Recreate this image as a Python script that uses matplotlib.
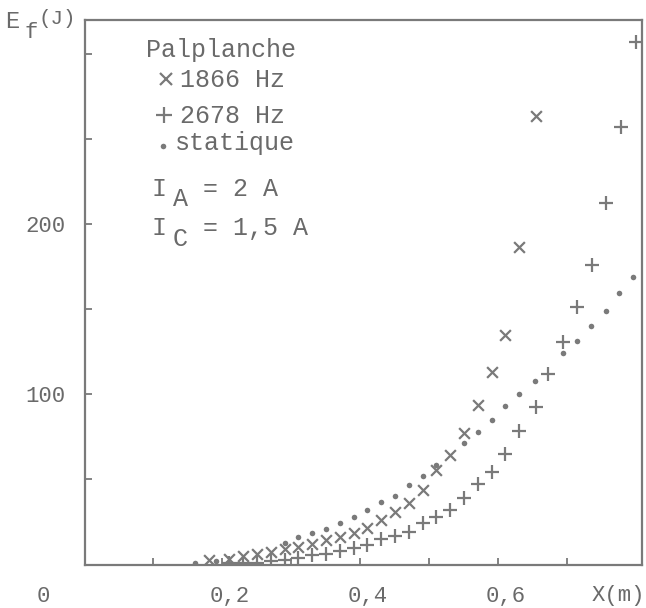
import matplotlib.pyplot as plt
from matplotlib.transforms import ScaledTranslation

plt.rcParams['font.family'] = ['Liberation Mono', 'DejaVu Sans']

# valeurs : X (m), Ef (J)
x_1866 = [0.18, 0.21, 0.23, 0.25, 0.27, 0.29, 0.31, 0.33, 0.35, 0.37, 0.39, 0.41,
          0.43, 0.45, 0.47, 0.49, 0.51, 0.53, 0.55, 0.57, 0.59, 0.61, 0.63, 0.655]
e_1866 = [2.4, 2.9, 4.7, 5.9, 7.1, 8.8, 10.0, 11.8, 14.1, 15.9, 18.2, 21.2,
          25.9, 30.6, 35.9, 43.5, 55.3, 64.1, 77.1, 93.5, 112.9, 134.7, 186.5, 263.5]

x_2678 = [0.21, 0.23, 0.25, 0.27, 0.29, 0.31, 0.33, 0.35, 0.37, 0.39, 0.41, 0.43,
          0.45, 0.47, 0.49, 0.51, 0.53, 0.55, 0.57, 0.59, 0.61, 0.63, 0.655, 0.672,
          0.693, 0.714, 0.735, 0.756, 0.777, 0.799]
e_2678 = [0.6, 0.6, 0.6, 1.8, 2.4, 3.5, 5.3, 5.9, 7.6, 9.4, 11.2, 14.7,
          16.5, 18.8, 24.1, 27.6, 31.8, 38.8, 47.1, 54.1, 64.7, 78.2, 92.4, 111.8,
          130.6, 151.2, 175.9, 212.4, 257.1, 307.1]

x_stat = [0.16, 0.19, 0.29, 0.31, 0.33, 0.35, 0.37, 0.39, 0.41, 0.43, 0.45, 0.47,
          0.49, 0.51, 0.55, 0.57, 0.59, 0.61, 0.63, 0.653, 0.693, 0.714, 0.734,
          0.756, 0.775, 0.795]
e_stat = [0.5, 1.8, 12.4, 15.9, 18.2, 20.6, 24.1, 27.6, 31.8, 36.5, 40.0, 46.5,
          51.8, 58.2, 71.2, 77.6, 84.7, 92.9, 100.0, 107.6, 124.1, 131.2, 140.0,
          148.8, 159.4, 168.8]

xticks = [0.1, 0.2, 0.3, 0.4, 0.5, 0.6, 0.7]
xtick_labels = ['', '0,2', '', '0,4', '', '0,6', '']
yticks = [50, 100, 150, 200, 250, 300]
ytick_labels = ['', '100', '', '200', '', '']

gris = '#7a7a7a'
texte = '#6a6a6a'

W, H = 646, 608
fig = plt.figure(figsize=(W / 100, H / 100), dpi=100)
ax = fig.add_axes([84.5 / W, 1 - 565 / H, (642 - 84.5) / W, (565 - 20) / H])

ax.scatter(x_1866, e_1866, marker='x', s=60, color=gris, linewidths=1.6)
ax.scatter(x_2678, e_2678, marker='+', s=110, color=gris, linewidths=1.6)
ax.scatter(x_stat, e_stat, marker='o', s=16, color=gris, linewidths=0)

ax.set_xlim(0, 0.808)
ax.set_ylim(-0.6, 320)
ax.set_xticks(xticks)
ax.set_xticklabels(xtick_labels)
ax.set_yticks(yticks)
ax.set_yticklabels(ytick_labels)
ax.tick_params(axis='both', direction='in', length=5, width=1.3, colors=gris,
               labelcolor=texte, labelsize=16)
ax.tick_params(axis='x', pad=15)
ax.tick_params(axis='y', pad=14)
# les etiquettes x sont un peu decalees a droite des graduations
decal = ScaledTranslation(7 / 100, 0, fig.dpi_scale_trans)
for lab in ax.get_xticklabels():
    lab.set_transform(lab.get_transform() + decal)
for s in ax.spines.values():
    s.set_color(gris)
    s.set_linewidth(1.6)


def txt(px, py, s, size=18, ha='left'):
    # position en pixels de l'image
    fig.text(px / W, 1 - py / H, s, fontsize=size, color=texte, ha=ha, va='center')


def mark(px, py, m, ms, mew):
    fig.add_artist(plt.Line2D([px / W], [1 - py / H], marker=m, ms=ms, mew=mew,
                              color=gris, linestyle='none', transform=fig.transFigure))


# origine et titre de l'axe x
txt(43, 596, '0', 16, 'center')
txt(618, 596, 'X(m)', 16, 'center')

# titre de l'axe y
txt(5, 22, 'E', 17)
txt(24, 32, 'f', 16)
txt(38, 19, '(J)', 15)

# legende
txt(146, 50, 'Palplanche')
mark(166, 79, 'x', 8, 1.6)
txt(180, 80, '1866 Hz')
mark(164, 115, '+', 11, 1.6)
txt(180, 116, '2678 Hz')
mark(163, 146, 'o', 4, 0)
txt(175, 143, 'statique')
txt(152, 189, 'I')
txt(173, 199, 'A')
txt(203, 189, '= 2 A')
txt(152, 228, 'I')
txt(173, 239, 'C')
txt(203, 228, '= 1,5 A')

fig.savefig('out.png', dpi=100)
